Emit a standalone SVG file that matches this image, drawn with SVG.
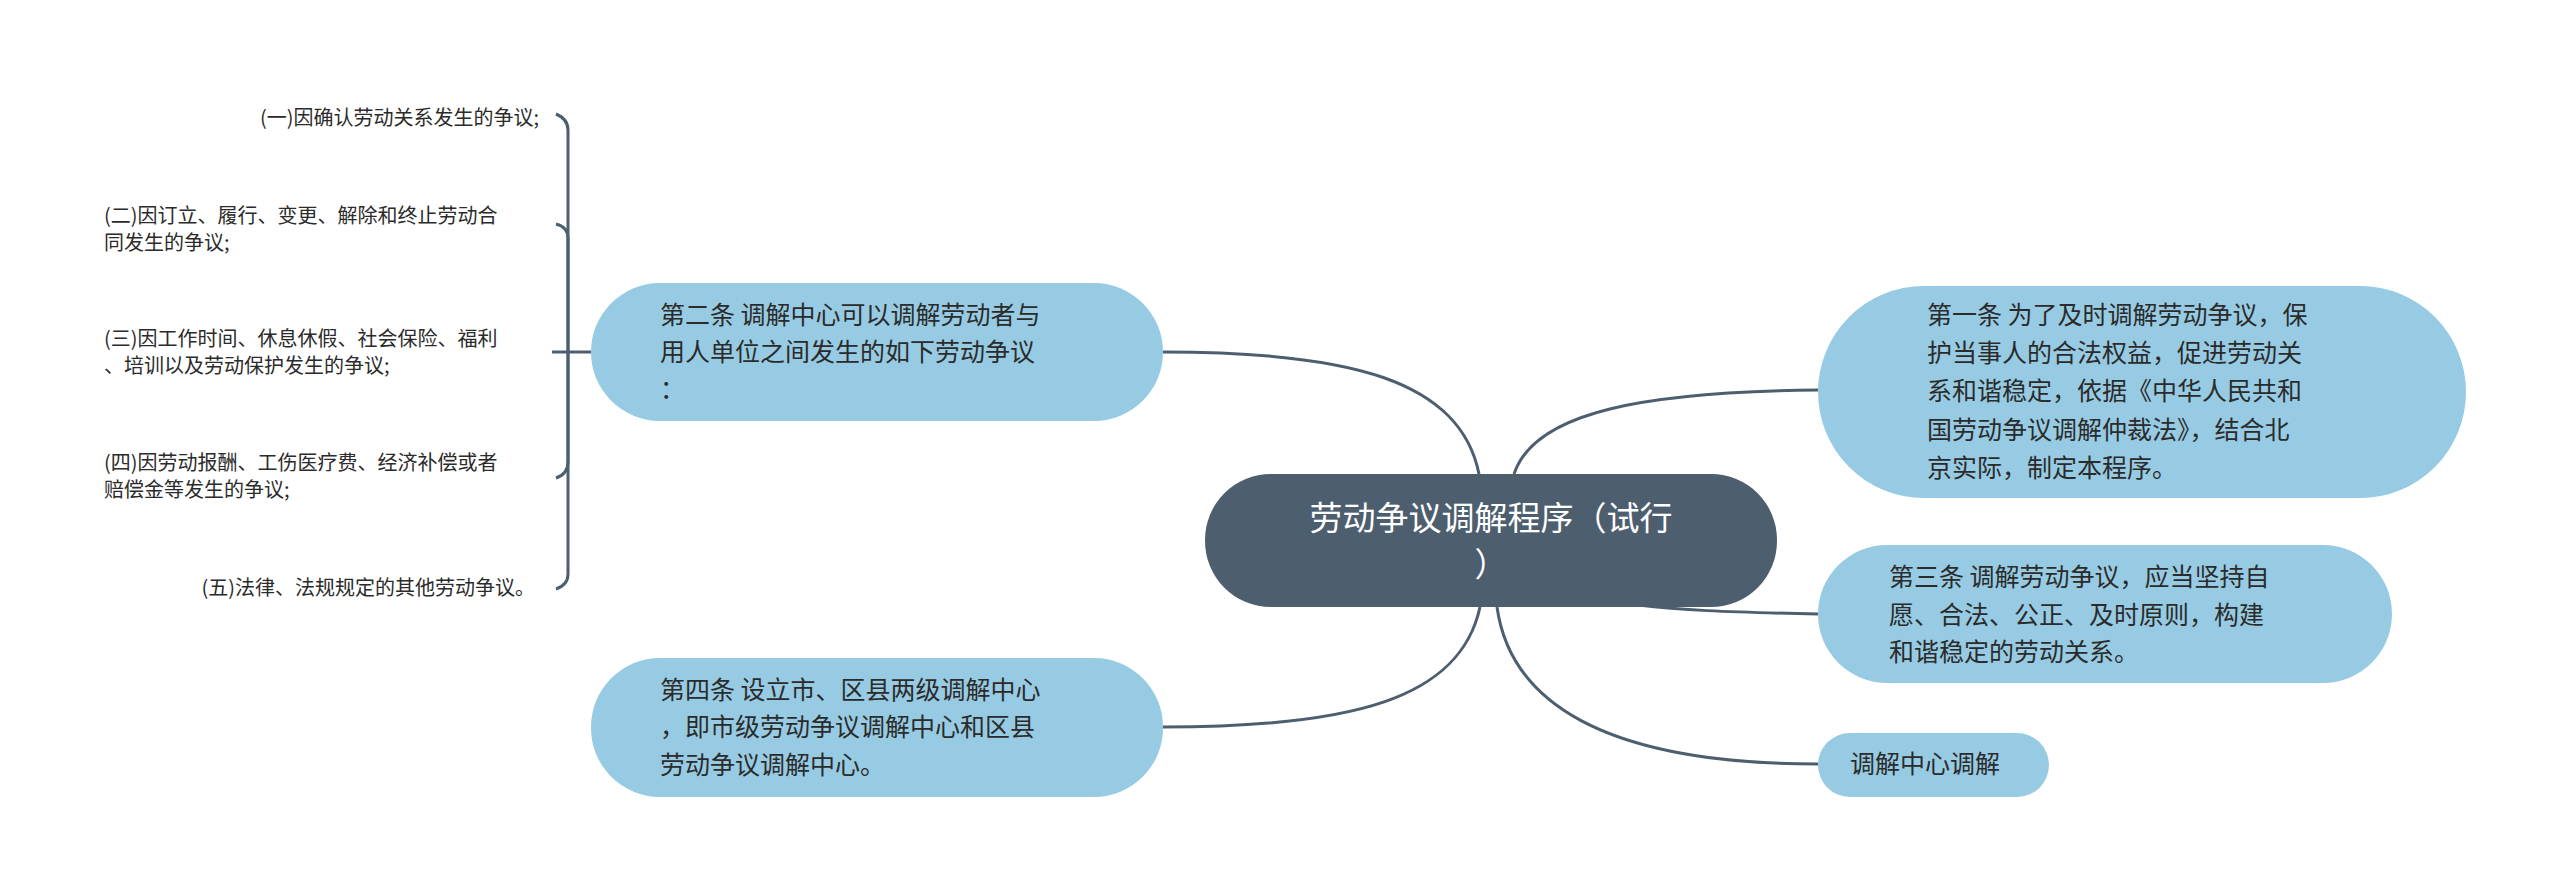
<svg xmlns="http://www.w3.org/2000/svg" width="2560" height="891" viewBox="0 0 2560 891">
<style>
.n{fill:#97cbe3}
.t{font-family:"Noto Sans CJK SC","Liberation Sans",sans-serif;font-size:25px;fill:#2b2b2b}
.l{font-family:"Noto Sans CJK SC","Liberation Sans",sans-serif;font-size:20px;fill:#2b2b2b}
.c{fill:none;stroke:#4d5e6e;stroke-width:3}
</style>
<rect width="2560" height="891" fill="#fff"/>
<g id="connectors">
<path class="c" d="M1163 352 C1350 352 1460 380 1479 474"/>
<path class="c" d="M1163 727 C1350 727 1460 700 1480 607"/>
<path class="c" d="M1818 390 C1650 392 1535 410 1514 474"/>
<path class="c" d="M1818 614 C1720 612 1680 610 1638 605"/>
<path class="c" d="M1818 764 C1600 764 1510 700 1497 607"/>
<path class="c" d="M591 352 H552"/>
<path class="c" d="M568 352 V130 Q568 119 556 114"/>
<path class="c" d="M568 352 V238 Q568 227 556 224"/>
<path class="c" d="M568 352 V462 Q568 474 556 478"/>
<path class="c" d="M568 352 V574 Q568 585 556 589"/>
</g>
<g id="center">
<rect x="1205" y="474" width="572" height="133" rx="66" fill="#4d5e6e"/>
<text x="1491" y="530" text-anchor="middle" font-family="Noto Sans CJK SC,sans-serif" font-size="33" fill="#fff">劳动争议调解程序（试行</text>
<text x="1491" y="576" text-anchor="middle" font-family="Noto Sans CJK SC,sans-serif" font-size="33" fill="#fff">）</text>
</g>
<g id="n2">
<rect class="n" x="591" y="283" width="572" height="138" rx="69"/>
<text class="t" x="660" y="324">第二条 调解中心可以调解劳动者与</text>
<text class="t" x="660" y="361">用人单位之间发生的如下劳动争议</text>
<text class="t" x="660" y="398">：</text>
</g>
<g id="n4">
<rect class="n" x="591" y="658" width="572" height="139" rx="69"/>
<text class="t" x="660" y="699">第四条 设立市、区县两级调解中心</text>
<text class="t" x="660" y="736">，即市级劳动争议调解中心和区县</text>
<text class="t" x="660" y="774">劳动争议调解中心。</text>
</g>
<g id="n1">
<rect class="n" x="1818" y="286" width="648" height="212" rx="106"/>
<text class="t" x="1927" y="324">第一条 为了及时调解劳动争议，保</text>
<text class="t" x="1927" y="362">护当事人的合法权益，促进劳动关</text>
<text class="t" x="1927" y="400">系和谐稳定，依据《中华人民共和</text>
<text class="t" x="1927" y="439">国劳动争议调解仲裁法》，结合北</text>
<text class="t" x="1927" y="477">京实际，制定本程序。</text>
</g>
<g id="n3">
<rect class="n" x="1818" y="545" width="574" height="138" rx="69"/>
<text class="t" x="1889" y="586">第三条 调解劳动争议，应当坚持自</text>
<text class="t" x="1889" y="624">愿、合法、公正、及时原则，构建</text>
<text class="t" x="1889" y="661">和谐稳定的劳动关系。</text>
</g>
<g id="n5">
<rect class="n" x="1818" y="733" width="231" height="64" rx="32"/>
<text class="t" x="1850" y="773">调解中心调解</text>
</g>
<g id="leaves">
<text class="l" x="539" y="125" text-anchor="end">(一)因确认劳动关系发生的争议;</text>
<text class="l" x="104" y="223">(二)因订立、履行、变更、解除和终止劳动合</text>
<text class="l" x="104" y="250">同发生的争议;</text>
<text class="l" x="104" y="346">(三)因工作时间、休息休假、社会保险、福利</text>
<text class="l" x="104" y="373">、培训以及劳动保护发生的争议;</text>
<text class="l" x="104" y="470">(四)因劳动报酬、工伤医疗费、经济补偿或者</text>
<text class="l" x="104" y="497">赔偿金等发生的争议;</text>
<text class="l" x="535" y="595" text-anchor="end">(五)法律、法规规定的其他劳动争议。</text>
</g>
</svg>
